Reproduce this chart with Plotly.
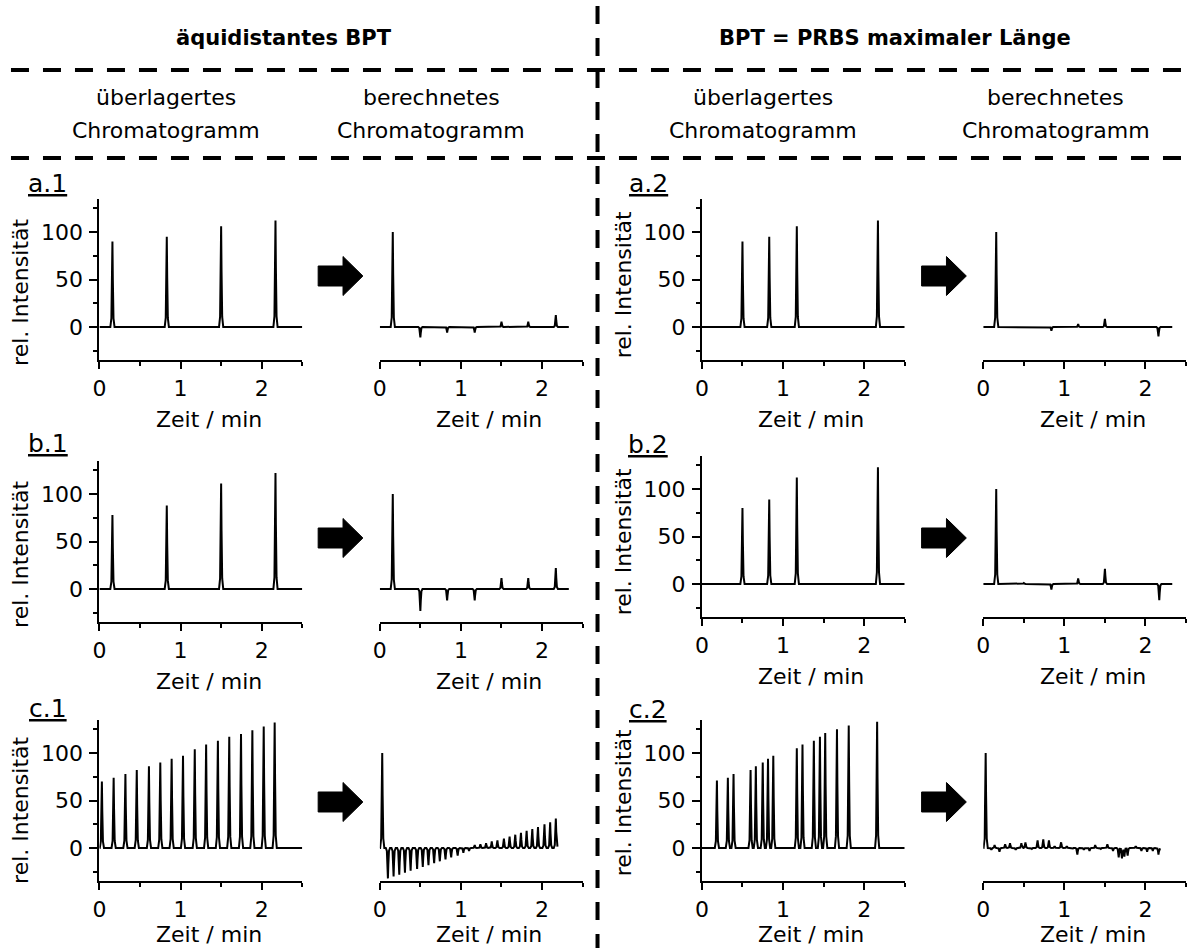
import numpy as np
import plotly.graph_objects as go

W, H = 1195, 948
FONT = "DejaVu Sans"

# ---------------- data (peak retention times [min] and relative intensities) ----------------
A1_OVER_T = [0.16, 0.83, 1.50, 2.17]
A1_OVER_H = [90, 95, 106, 112]
A1_CALC_T = [0.16, 0.50, 0.83, 1.17, 1.50, 1.83, 2.17]
A1_CALC_H = [100, -11, -6, -6, 5.5, 5.5, 12.5]

A2_OVER_T = [0.50, 0.83, 1.17, 2.17]
A2_OVER_H = [90, 95, 106, 112]
A2_CALC_T = [0.16, 0.84, 1.17, 1.50, 2.16]
A2_CALC_H = [100, -4, 3, 8.5, -10]

B1_OVER_T = [0.16, 0.83, 1.50, 2.17]
B1_OVER_H = [78, 88, 111, 122]
B1_CALC_T = [0.16, 0.50, 0.83, 1.17, 1.50, 1.83, 2.17]
B1_CALC_H = [100, -23, -12, -12, 11.5, 11.5, 22]

B2_OVER_T = [0.50, 0.83, 1.17, 2.17]
B2_OVER_H = [80, 89, 112, 123]
B2_CALC_T = [0.16, 0.50, 0.84, 1.17, 1.50, 2.17]
B2_CALC_H = [100, 1, -6, 6, 16, -17]

C1_OVER_T = [0.03, 0.175, 0.32, 0.46, 0.61, 0.75, 0.89, 1.03,
             1.175, 1.315, 1.46, 1.60, 1.745, 1.885, 2.025, 2.16]
C1_OVER_H = [70, 74, 78, 82, 86, 90, 94, 97, 104, 109, 113, 117, 120, 124, 128, 132]
C1_CALC_T = [0.03, 0.10, 0.17, 0.24, 0.31, 0.38, 0.46, 0.53, 0.60, 0.67, 0.74, 0.81,
             0.88, 0.96, 1.03, 1.10, 1.17, 1.24, 1.31, 1.38, 1.45, 1.53, 1.60, 1.67,
             1.74, 1.81, 1.88, 1.95, 2.03, 2.10, 2.17]
C1_CALC_H = [100, -32, -30, -28, -26, -24, -22, -20, -18, -16, -14, -12,
             -10, -8, -5, -3, 3, 4, 5, 7, 8, 10, 12, 14,
             16, 18, 20, 22, 25, 27, 31]

C2_OVER_T = [0.185, 0.32, 0.39, 0.60, 0.665, 0.75, 0.815, 0.88,
             1.17, 1.24, 1.38, 1.455, 1.52, 1.665, 1.81, 2.16]
C2_OVER_H = [71, 74, 78, 82, 86, 90, 94, 97, 105, 109, 113, 117, 121, 125, 129, 133]
C2_CALC_T = [0.03, 0.10, 0.14, 0.20, 0.27, 0.33, 0.40, 0.47, 0.52, 0.60, 0.67, 0.74,
             0.81, 0.88, 0.96, 1.03, 1.10, 1.16, 1.24, 1.31, 1.38, 1.45, 1.53, 1.60,
             1.67, 1.71, 1.74, 1.78, 1.88, 1.95, 2.02, 2.09, 2.16]
C2_CALC_H = [100, -2, 3, -4, 4, 5, -2, 5, 6, -1, 8, 9,
             8, 2, 6, 2, -1, -7, -2, -3, 3, -1, 4, -3,
             -10, -11, -9, -8, 2, -3, -4, -3, -7]

X_TICKS = [0, 1, 2]
Y_TICKS = [0, 50, 100]
X_RANGE = [0, 2.5]
Y_RANGE = [-35, 135]
X_TITLE = "Zeit / min"
Y_TITLE = "rel. Intensität"

# peak profile (style of a single chromatographic peak)
PEAK_DT = [-0.026, -0.013, -0.005, 0.0, 0.005, 0.013, 0.026]
PEAK_F = [0.0, 0.1, 0.55, 1.0, 0.55, 0.1, 0.0]


def chromatogram(times, heights, t_end):
    xs = {0.0, t_end}
    for t in times:
        for d in PEAK_DT:
            v = round(t + d, 5)
            if 0 <= v <= t_end:
                xs.add(v)
    xs = np.array(sorted(xs))
    ys = np.zeros_like(xs)
    for t, h in zip(times, heights):
        ys += np.interp(xs, [t + d for d in PEAK_DT], [h * f for f in PEAK_F],
                        left=0.0, right=0.0)
    return xs, ys


# ---------------- layout geometry (pixels) ----------------
COL_X = {1: (93, 297), 2: (375, 579), 3: (699, 903), 4: (982, 1186)}
ZERO_Y = {("a", "L"): 327, ("a", "R"): 327, ("b", "L"): 589, ("b", "R"): 584,
          ("c", "L"): 848, ("c", "R"): 848}
XTITLE_DY = {"a": 92, "b": 92, "c": 86}
PX_PER_UNIT = 0.95

panels = [
    ("a", 1, A1_OVER_T, A1_OVER_H, 2.5, True),
    ("a", 2, A1_CALC_T, A1_CALC_H, 2.33, False),
    ("a", 3, A2_OVER_T, A2_OVER_H, 2.5, True),
    ("a", 4, A2_CALC_T, A2_CALC_H, 2.33, False),
    ("b", 1, B1_OVER_T, B1_OVER_H, 2.5, True),
    ("b", 2, B1_CALC_T, B1_CALC_H, 2.33, False),
    ("b", 3, B2_OVER_T, B2_OVER_H, 2.5, True),
    ("b", 4, B2_CALC_T, B2_CALC_H, 2.33, False),
    ("c", 1, C1_OVER_T, C1_OVER_H, 2.5, True),
    ("c", 2, C1_CALC_T, C1_CALC_H, 2.19, False),
    ("c", 3, C2_OVER_T, C2_OVER_H, 2.5, True),
    ("c", 4, C2_CALC_T, C2_CALC_H, 2.18, False),
]


def px(x):
    return x / W


def py(y):
    return 1 - y / H


fig = go.Figure()
layout = dict(
    width=W, height=H, margin=dict(l=0, r=0, t=0, b=0),
    paper_bgcolor="white", plot_bgcolor="white", showlegend=False,
    font=dict(family=FONT, size=22, color="black"),
)
annotations = []
shapes = []

for i, (row, col, ts, hs, t_end, overlay) in enumerate(panels, start=1):
    side = "L" if col <= 2 else "R"
    z = ZERO_Y[(row, side)]
    y_bot = z - Y_RANGE[0] * PX_PER_UNIT
    y_top = z - Y_RANGE[1] * PX_PER_UNIT
    x0, x1 = COL_X[col]
    xs, ys = chromatogram(ts, hs, t_end)
    sfx = "" if i == 1 else str(i)
    fig.add_trace(go.Scatter(x=xs, y=ys, mode="lines", line=dict(color="black", width=2),
                             xaxis="x" + sfx, yaxis="y" + sfx, hoverinfo="skip"))
    layout["xaxis" + sfx] = dict(
        domain=[px(x0), px(x1)], anchor="y" + sfx, range=X_RANGE,
        showline=True, linecolor="black", linewidth=2, showgrid=False, zeroline=False,
        tickmode="array", tickvals=X_TICKS, ticks="outside", ticklen=7, tickwidth=2,
        tickcolor="black", tickfont=dict(family=FONT, size=22),
        minor=dict(dtick=0.5, tick0=0, ticks="outside", ticklen=4, tickwidth=2,
                   tickcolor="black", showgrid=False),
    )
    ydict = dict(
        domain=[py(y_bot), py(y_top)], anchor="x" + sfx, range=Y_RANGE,
        showgrid=False, zeroline=False,
    )
    if overlay:
        ydict.update(
            showline=True, linecolor="black", linewidth=2,
            tickmode="array", tickvals=Y_TICKS, ticks="outside", ticklen=8, tickwidth=2,
            tickcolor="black", tickfont=dict(family=FONT, size=22), ticklabelstandoff=2,
            minor=dict(dtick=25, tick0=0, ticks="outside", ticklen=4, tickwidth=2,
                       tickcolor="black", showgrid=False),
        )
    else:
        ydict.update(visible=False)
    layout["yaxis" + sfx] = ydict

    # x axis title
    annotations.append(dict(text=X_TITLE, xref="paper", yref="paper",
                            x=px((x0 + x1) / 2 + 8), y=py(z + XTITLE_DY[row]),
                            showarrow=False, xanchor="center", yanchor="middle",
                            font=dict(family=FONT, size=22)))
    if overlay:
        ty = {("a", "L"): 292, ("a", "R"): 285, ("b", "L"): 554, ("b", "R"): 542,
              ("c", "L"): 810, ("c", "R"): 803}[(row, side)]
        tx = 13 if side == "L" else 620
        annotations.append(dict(text=Y_TITLE, xref="paper", yref="paper",
                                x=px(tx), y=py(ty), textangle=-90, showarrow=False,
                                xanchor="center", yanchor="middle",
                                font=dict(family=FONT, size=22)))

# panel labels
for lab, x, y in [("a.1", 41, 184), ("a.2", 645, 184), ("b.1", 41, 443),
                  ("b.2", 645, 444), ("c.1", 41, 708), ("c.2", 645, 709)]:
    annotations.append(dict(text="<u>" + lab + "</u>", xref="paper", yref="paper",
                            x=px(x), y=py(y), showarrow=False, xanchor="center",
                            yanchor="middle", font=dict(family=FONT, size=25)))

# headers
annotations.append(dict(text="<b>äquidistantes BPT</b>", xref="paper", yref="paper",
                        x=px(279), y=py(38), showarrow=False, xanchor="center",
                        yanchor="middle", font=dict(family=FONT, size=21)))
annotations.append(dict(text="<b>BPT = PRBS maximaler Länge</b>", xref="paper",
                        yref="paper", x=px(893), y=py(38), showarrow=False,
                        xanchor="center", yanchor="middle",
                        font=dict(family=FONT, size=21)))
for cx, l1 in [(160, "überlagertes"), (427, "berechnetes"),
               (760, "überlagertes"), (1055, "berechnetes")]:
    for txt, yy in [(l1, 97), ("Chromatogramm", 130)]:
        annotations.append(dict(text=txt, xref="paper", yref="paper", x=px(cx),
                                y=py(yy), showarrow=False, xanchor="center",
                                yanchor="middle", font=dict(family=FONT, size=22)))

# dashed separators
DASH = "18px,14px"
for yy in (70, 158):
    shapes.append(dict(type="line", xref="paper", yref="paper", x0=px(4), x1=px(1182),
                       y0=py(yy), y1=py(yy), line=dict(color="black", width=4, dash=DASH)))
shapes.append(dict(type="line", xref="paper", yref="paper", x0=px(594), x1=px(594),
                   y0=py(6), y1=py(948), line=dict(color="black", width=4, dash=DASH)))

# block arrows
for xs0, xs1, xt in [(313, 338, 358), (920, 945, 965)]:
    for yc in (276, 538, 802):
        pts = [(xs0, yc - 10), (xs1, yc - 10), (xs1, yc - 19.5), (xt, yc),
               (xs1, yc + 19.5), (xs1, yc + 10), (xs0, yc + 10)]
        path = "M " + " L ".join(f"{px(a):.5f},{py(b):.5f}" for a, b in pts) + " Z"
        shapes.append(dict(type="path", xref="paper", yref="paper", path=path,
                           fillcolor="black", line=dict(color="black", width=1)))

layout["annotations"] = annotations
layout["shapes"] = shapes
fig.update_layout(**layout)

fig.write_html("out.html", config={"displayModeBar": False},
               post_script="document.body.style.margin='0';"
               "document.body.style.overflow='hidden';")
